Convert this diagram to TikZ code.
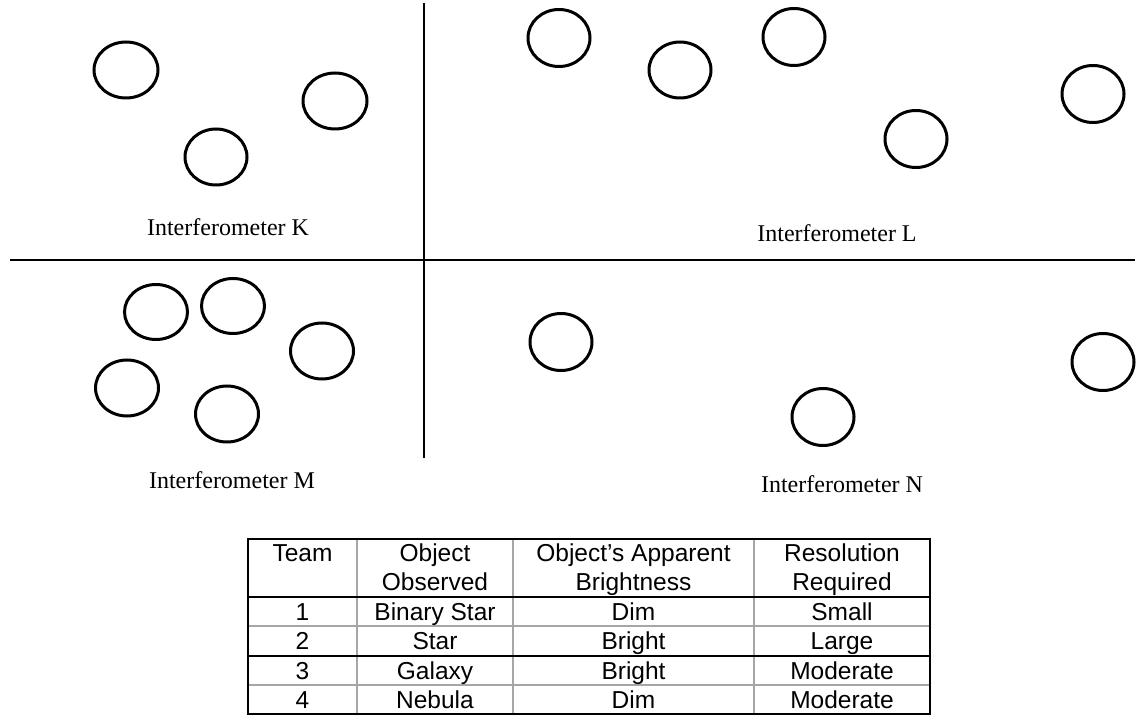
\documentclass[tikz,border=0pt]{standalone}
\usepackage{fontspec}
\setmainfont{Liberation Serif}
\newfontfamily\labelfont{Liberation Serif}
\newfontfamily\tablefont{Liberation Sans}

\def\tableframe{(248,539) rectangle (930,714)}

\begin{document}
\begin{tikzpicture}[x=1pt,y=-1pt,
    ring/.style={line width=3pt},
    divider/.style={line width=1.4pt},
    panellabel/.style={font=\labelfont\fontsize{24}{28}\selectfont},
    cell/.style={font=\tablefont\fontsize{24.5}{29}\selectfont, anchor=base, inner sep=0pt},
    darkrule/.style={line width=1.2pt},
    lightrule/.style={line width=1.2pt, black!35}]
    \useasboundingbox (0,0) rectangle (1140,727);

    % quadrant dividers
    \draw[divider] (424,3) -- (424,458);
    \draw[divider] (10,260) -- (1135,260);

    % interferometer K
    \draw[ring] (126,70) ellipse [x radius=32, y radius=28];
    \draw[ring] (335,101) ellipse [x radius=32, y radius=28];
    \draw[ring] (216,157) ellipse [x radius=31, y radius=28];
    \node[panellabel] (labK) at (228,227) {Interferometer K};

    % interferometer L
    \draw[ring] (559,38) ellipse [x radius=31, y radius=28.5];
    \draw[ring] (680,70) ellipse [x radius=31, y radius=28];
    \draw[ring] (794,37) ellipse [x radius=31, y radius=28.5];
    \draw[ring] (916,139) ellipse [x radius=31, y radius=28.5];
    \draw[ring] (1093,94) ellipse [x radius=31, y radius=28.5];
    \node[panellabel] (labL) at (837,233) {Interferometer L};

    % interferometer M
    \draw[ring] (156,312) ellipse [x radius=31.5, y radius=27.5];
    \draw[ring] (233,306) ellipse [x radius=31.5, y radius=27.5];
    \draw[ring] (322,351) ellipse [x radius=31.5, y radius=28];
    \draw[ring] (127,388) ellipse [x radius=31.5, y radius=28];
    \draw[ring] (227,414) ellipse [x radius=31.5, y radius=28];
    \node[panellabel] (labM) at (232,480) {Interferometer M};

    % interferometer N
    \draw[ring] (561,342) ellipse [x radius=31, y radius=28.5];
    \draw[ring] (823,417) ellipse [x radius=31, y radius=28.5];
    \draw[ring] (1103,362) ellipse [x radius=31, y radius=28.5];
    \node[panellabel] (labN) at (842,484) {Interferometer N};

    % table
    \draw[lightrule] (357,539) -- (357,714);
    \draw[lightrule] (513,539) -- (513,714);
    \draw[lightrule] (754,539) -- (754,714);
    \draw[lightrule] (248,626) -- (930,626);
    \draw[lightrule] (248,685) -- (930,685);
    \draw[darkrule] (248,597) -- (930,597);
    \draw[darkrule] (248,656) -- (930,656);
    \draw[darkrule] \tableframe;

    % header, two lines
    \node[cell] (hTeam) at (302.5,561.5) {Team};
    \node[cell] (hObjA) at (435,561.5) {Object};
    \node[cell] (hObjB) at (435,590.5) {Observed};
    \node[cell] (hBrA) at (633.5,561.5) {Object’s Apparent};
    \node[cell] (hBrB) at (633.5,590.5) {Brightness};
    \node[cell] (hResA) at (842,561.5) {Resolution};
    \node[cell] (hResB) at (842,590.5) {Required};

    % rows
    \node[cell] (t1) at (302.5,620) {1};
    \node[cell] (o1) at (435,620) {Binary Star};
    \node[cell] (b1) at (633.5,620) {Dim};
    \node[cell] (r1) at (842,620) {Small};

    \node[cell] (t2) at (302.5,649.5) {2};
    \node[cell] (o2) at (435,649.5) {Star};
    \node[cell] (b2) at (633.5,649.5) {Bright};
    \node[cell] (r2) at (842,649.5) {Large};

    \node[cell] (t3) at (302.5,679) {3};
    \node[cell] (o3) at (435,679) {Galaxy};
    \node[cell] (b3) at (633.5,679) {Bright};
    \node[cell] (r3) at (842,679) {Moderate};

    \node[cell] (t4) at (302.5,708) {4};
    \node[cell] (o4) at (435,708) {Nebula};
    \node[cell] (b4) at (633.5,708) {Dim};
    \node[cell] (r4) at (842,708) {Moderate};

\end{tikzpicture}
\end{document}
